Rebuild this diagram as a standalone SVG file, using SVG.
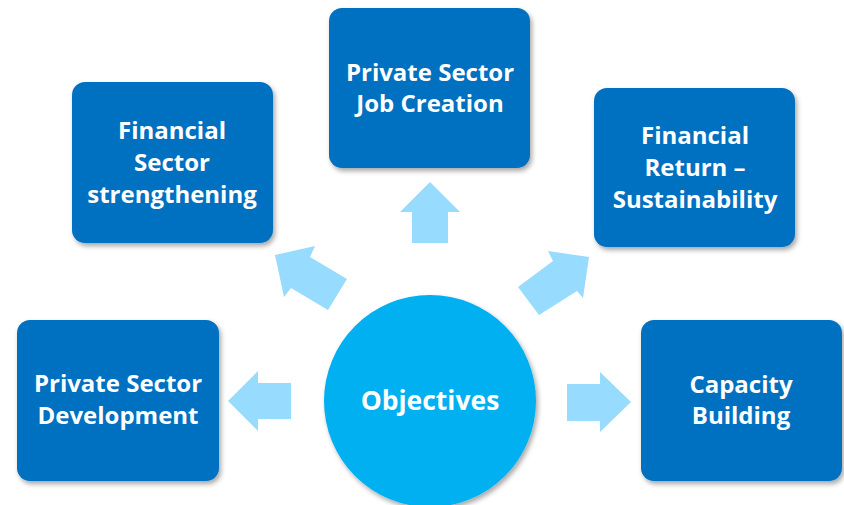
<svg xmlns="http://www.w3.org/2000/svg" width="844" height="505" viewBox="0 0 844 505">
<defs>
<filter id="sh" x="-10%" y="-10%" width="130%" height="130%">
<feDropShadow dx="2" dy="3" stdDeviation="2.5" flood-color="#000" flood-opacity="0.35"/>
</filter>
<style>
.box{fill:#0070C0;filter:url(#sh)}
.arr{fill:#97DBFF}
.t{fill:#fff;font-family:"Open Sans","Liberation Sans",sans-serif;font-weight:bold;font-size:24px;text-anchor:middle}
.c{fill:#00B0F0;filter:url(#sh)}
</style>
</defs>
<rect width="844" height="505" fill="#fff"/>
<g id="connectors">
<polygon class="arr" points="430,182 460,212 448,212 448,243 412,243 412,212 400,212"/>
<polygon class="arr" points="228,401 258,371 258,383 291,383 291,419 258,419 258,431"/>
<polygon class="arr" points="631,402 600,372 600,384 567,384 567,421 600,421 600,432"/>
<polygon class="arr" points="275,255 315,246 310,257 347,279 328,310 291,288 284,297"/>
<polygon class="arr" points="589,257 583,298 577,291 539,315 518,287 553,261 548,251"/>
</g>
<g id="objectives">
<circle class="c" cx="430" cy="401" r="106"/>
<text class="t" x="430" y="410" style="font-size:26.5px">Objectives</text>
</g>
<g id="psd">
<rect class="box" x="17" y="320" width="202" height="161" rx="13"/>
<text class="t" x="118" y="392">Private Sector</text>
<text class="t" x="118" y="424">Development</text>
</g>
<g id="fss">
<rect class="box" x="72" y="82" width="201" height="161" rx="13"/>
<text class="t" x="172" y="139">Financial</text>
<text class="t" x="172" y="171">Sector</text>
<text class="t" x="172" y="203">strengthening</text>
</g>
<g id="psjc">
<rect class="box" x="329" y="8" width="201" height="160" rx="13"/>
<text class="t" x="430" y="81">Private Sector</text>
<text class="t" x="430" y="112">Job Creation</text>
</g>
<g id="frs">
<rect class="box" x="594" y="88" width="201" height="159" rx="13"/>
<text class="t" x="695" y="144">Financial</text>
<text class="t" x="695" y="176">Return –</text>
<text class="t" x="695" y="208">Sustainability</text>
</g>
<g id="cb">
<rect class="box" x="641" y="320" width="201" height="161" rx="13"/>
<text class="t" x="741" y="393">Capacity</text>
<text class="t" x="741" y="424">Building</text>
</g>
</svg>
